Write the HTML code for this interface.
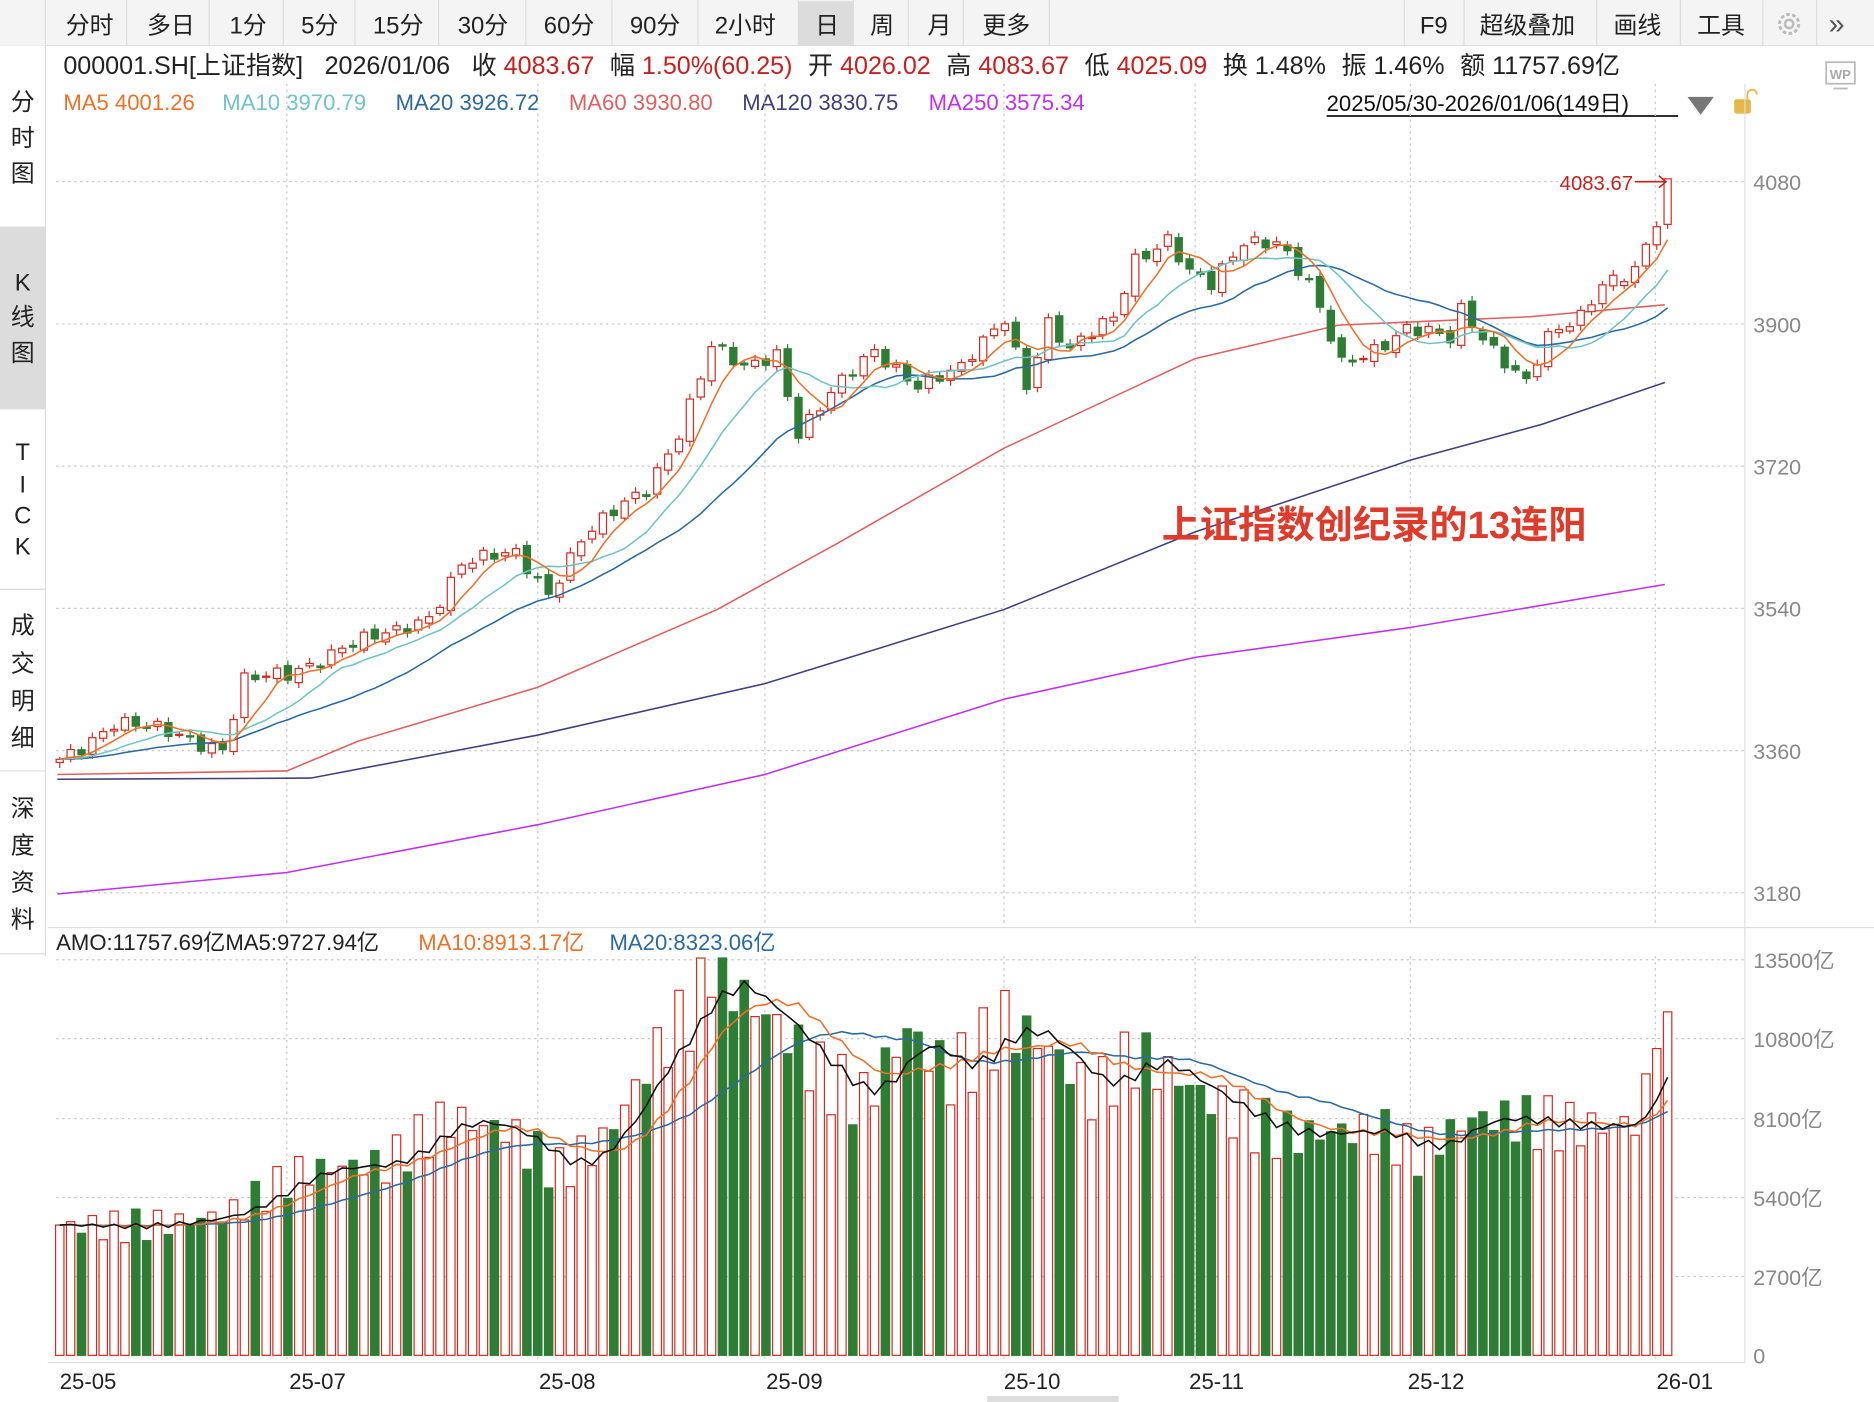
<!DOCTYPE html>
<html><head><meta charset="utf-8"><style>
html,body{margin:0;padding:0;background:#fff;width:1874px;height:1402px;overflow:hidden}
svg{display:block}
text{font-family:"Liberation Sans","Noto Sans CJK SC",sans-serif}
</style></head><body>
<svg id="s" width="1874" height="1402" viewBox="0 0 1568 1173" xmlns="http://www.w3.org/2000/svg">
<rect x="0" y="0" width="1568" height="38" fill="#f4f4f4"/>
<line x1="0" y1="38" x2="1568" y2="38" stroke="#ddd"/>
<rect x="668" y="1" width="46" height="37" fill="#dcdcdc"/>
<g font-size="20" fill="#222">
<text x="55" y="28">分时</text><text x="123" y="28">多日</text><text x="192" y="28">1分</text><text x="252" y="28">5分</text><text x="312" y="28">15分</text><text x="383" y="28">30分</text><text x="455" y="28">60分</text><text x="527" y="28">90分</text><text x="598" y="28">2小时</text><text x="682" y="28">日</text><text x="728" y="28">周</text><text x="776" y="28">月</text><text x="822" y="28">更多</text>
<text x="1188" y="28">F9</text><text x="1238" y="28">超级叠加</text><text x="1350" y="28">画线</text><text x="1420" y="28">工具</text>
<text x="1530" y="28" fill="#555" font-size="24">»</text>
</g>
<circle cx="1497" cy="20" r="8" fill="none" stroke="#bbb" stroke-width="2.5" stroke-dasharray="3 2"/><circle cx="1497" cy="20" r="3.5" fill="none" stroke="#bbb" stroke-width="2"/>
<g stroke="#ddd"><line x1="38" y1="0" x2="38" y2="38"/><line x1="106" y1="0" x2="106" y2="38"/><line x1="175" y1="0" x2="175" y2="38"/><line x1="237" y1="0" x2="237" y2="38"/><line x1="297" y1="0" x2="297" y2="38"/><line x1="367" y1="0" x2="367" y2="38"/><line x1="440" y1="0" x2="440" y2="38"/><line x1="512" y1="0" x2="512" y2="38"/><line x1="584" y1="0" x2="584" y2="38"/><line x1="668" y1="0" x2="668" y2="38"/><line x1="714" y1="0" x2="714" y2="38"/><line x1="760" y1="0" x2="760" y2="38"/><line x1="806" y1="0" x2="806" y2="38"/><line x1="878" y1="0" x2="878" y2="38"/><line x1="1175" y1="0" x2="1175" y2="38"/><line x1="1225" y1="0" x2="1225" y2="38"/><line x1="1336" y1="0" x2="1336" y2="38"/><line x1="1406" y1="0" x2="1406" y2="38"/><line x1="1475" y1="0" x2="1475" y2="38"/><line x1="1520" y1="0" x2="1520" y2="38"/></g>
<rect x="0" y="38" width="38" height="760" fill="#fff"/>
<rect x="0" y="190" width="38" height="152" fill="#dcdcdc"/>
<line x1="38" y1="38" x2="38" y2="800" stroke="#ddd"/>
<g stroke="#ddd"><line x1="0" y1="190" x2="38" y2="190"/><line x1="0" y1="342" x2="38" y2="342"/><line x1="0" y1="493" x2="38" y2="493"/><line x1="0" y1="645" x2="38" y2="645"/><line x1="0" y1="798" x2="38" y2="798"/></g>
<g font-size="20" fill="#222" text-anchor="middle">
<text x="19" y="92">分</text><text x="19" y="122">时</text><text x="19" y="152">图</text>
<text x="19" y="243">K</text><text x="19" y="272">线</text><text x="19" y="302">图</text>
<text x="19" y="385">T</text><text x="19" y="412">I</text><text x="19" y="438">C</text><text x="19" y="464">K</text>
<text x="19" y="530">成</text><text x="19" y="562">交</text><text x="19" y="593">明</text><text x="19" y="624">细</text>
<text x="19" y="683">深</text><text x="19" y="714">度</text><text x="19" y="745">资</text><text x="19" y="776">料</text>
</g>
<g font-size="21" fill="#222">
<text x="53" y="62">000001.SH[上证指数]<tspan dx="18">2026/01/06</tspan><tspan dx="18">收 </tspan><tspan fill="#c8201e">4083.67</tspan><tspan dx="13">幅 </tspan><tspan fill="#c8201e">1.50%(60.25)</tspan><tspan dx="13">开 </tspan><tspan fill="#c8201e">4026.02</tspan><tspan dx="13">高 </tspan><tspan fill="#c8201e">4083.67</tspan><tspan dx="13">低 </tspan><tspan fill="#c8201e">4025.09</tspan><tspan dx="13">换 1.48%</tspan><tspan dx="13">振 1.46%</tspan><tspan dx="13">额 11757.69亿</tspan></text>
</g>
<g font-size="18.5">
<text x="53" y="92" fill="#f07028">MA5 4001.26</text><text x="186" y="92" fill="#70c4c4">MA10 3970.79</text><text x="331" y="92" fill="#2a6aa0">MA20 3926.72</text><text x="476" y="92" fill="#e06060">MA60 3930.80</text><text x="621" y="92" fill="#404080">MA120 3830.75</text><text x="777" y="92" fill="#c030f0">MA250 3575.34</text>
</g>
<text x="1110" y="93" font-size="18.5" fill="#111">2025/05/30-2026/01/06(149日)</text>
<line x1="1110" y1="97" x2="1404" y2="97" stroke="#111" stroke-width="1.5"/>
<polygon points="1412,81 1434,81 1423,96" fill="#777"/>
<rect x="1451" y="83" width="14" height="12" rx="2" fill="#e6b84a"/><path d="M1462 83 v-4 a4 4 0 0 1 8 0" fill="none" stroke="#e6b84a" stroke-width="1.5"/>
<rect x="1528" y="52" width="24" height="18" fill="none" stroke="#bbb" stroke-width="1.5"/><text x="1531" y="66" font-size="11" fill="#aaa" font-weight="bold">WP</text><line x1="1534" y1="74" x2="1546" y2="74" stroke="#bbb" stroke-width="1.5"/>
<line x1="1460" y1="70" x2="1460" y2="1140" stroke="#ddd"/>
<line x1="40" y1="776" x2="1568" y2="776" stroke="#ddd"/>
<line x1="40" y1="1140" x2="1460" y2="1140" stroke="#ddd"/>
<g id="grid" stroke="#c8c8c8" stroke-dasharray="2 3"></g>
<g id="plot"></g>
<g font-size="18" fill="#888">
<text x="1467" y="159">4080</text><text x="1467" y="278">3900</text><text x="1467" y="397">3720</text><text x="1467" y="516">3540</text><text x="1467" y="635">3360</text><text x="1467" y="754">3180</text>
<text x="1467" y="810">13500亿</text><text x="1467" y="876">10800亿</text><text x="1467" y="943">8100亿</text><text x="1467" y="1009">5400亿</text><text x="1467" y="1075">2700亿</text><text x="1467" y="1141">0</text>
</g>
<g font-size="18.5">
<text x="47" y="795" fill="#222">AMO:11757.69亿MA5:9727.94亿</text><text x="350" y="795" fill="#f07028">MA10:8913.17亿</text><text x="510" y="795" fill="#2a6aa0">MA20:8323.06亿</text>
</g>
<g font-size="18.5" fill="#222">
<text x="50" y="1162">25-05</text><text x="242" y="1162">25-07</text><text x="451" y="1162">25-08</text><text x="641" y="1162">25-09</text><text x="840" y="1162">25-10</text><text x="995" y="1162">25-11</text><text x="1178" y="1162">25-12</text><text x="1386" y="1162">26-01</text>
</g>
<rect x="826" y="1168" width="110" height="5" fill="#ddd"/>
<text x="972" y="450" font-size="32" font-weight="bold" fill="#e03a2a">上证指数创纪录的13连阳</text>
<text x="1305" y="159" font-size="17" fill="#c8201e">4083.67</text>
<path d="M1368 152 H1394 M1388 147 L1394 152 L1388 157" stroke="#c8201e" fill="none" stroke-width="1.3"/>
</svg>
<script>
const NS="http://www.w3.org/2000/svg";
const grid=document.getElementById('grid'),plot=document.getElementById('plot');
function el(p,t,a){const e=document.createElementNS(NS,t);for(const k in a)e.setAttribute(k,a[k]);p.appendChild(e);return e;}
[152,271,390,509,628,747,803,869,936,1002,1068].forEach(y=>el(grid,'line',{x1:47,y1:y,x2:1460,y2:y}));
[240,450,640,840,1000,1180,1385].forEach(x=>{el(grid,'line',{x1:x,y1:70,x2:x,y2:775});el(grid,'line',{x1:x,y1:800,x2:x,y2:1138});});
const key=[[0,3349],[5,3395],[11,3380],[15,3364],[17,3448],[21,3455],[26,3493],[31,3508],[34,3531],[37,3599],[42,3607],[45,3561],[48,3629],[54,3690],[57,3765],[60,3871],[63,3841],[66,3864],[68,3765],[71,3811],[75,3864],[79,3826],[83,3841],[87,3909],[89,3826],[91,3902],[93,3864],[97,3909],[99,3985],[102,4007],[104,3962],[106,3947],[109,4007],[112,4007],[115,3947],[118,3849],[121,3871],[124,3894],[128,3879],[129,3917],[132,3871],[135,3826],[137,3879],[140,3909],[142,3955],[145,3970],[147,4023],[148,4083.67]];
function interp(k,i){for(let j=0;j<k.length-1;j++){const[a,va]=k[j],[b,vb]=k[j+1];if(i>=a&&i<=b)return va+(vb-va)*(i-a)/(b-a);}return k[k.length-1][1];}
const N=149,X=i=>50+i*9.09,Y=p=>152+(4080-p)*0.6611;
const c=[],o=[],h=[],l=[];
for(let i=0;i<N;i++){let v=interp(key,i);if(i<147)v+=8*Math.sin(i*2.3)+5*Math.sin(i*5.7);c.push(v);}
for(let i=0;i<N;i++){let v=i?c[i-1]+4*Math.sin(i*3.1):3345;if(i>=136&&v>c[i]-3)v=c[i]-3-4*Math.abs(Math.sin(i));if(i==148)v=4026.02;o.push(v);
h.push(Math.max(v,c[i])+3+4*Math.abs(Math.sin(i*1.7)));l.push(Math.min(v,c[i])-3-4*Math.abs(Math.cos(i*1.3)));}
h[148]=4083.67;
function ma(a,n){return a.map((_,i)=>{let s=0;for(let j=i-n+1;j<=i;j++)s+=a[Math.max(j,0)];return s/n;});}
function line(pts,col,w){el(plot,'polyline',{points:pts.map(p=>p.join(',')).join(' '),fill:'none',stroke:col,'stroke-width':w||1.3});}
line([[48,748],[240,730],[450,690],[640,648],[840,585],[1000,550],[1180,525],[1393,489]],'#c030f0');
line([[48,652],[260,651],[450,615],[640,572],[840,510],[1000,445],[1180,385],[1290,355],[1393,320]],'#404080');
line([[48,648],[240,645],[300,620],[450,575],[600,510],[700,455],[840,375],[1000,300],[1120,272],[1280,265],[1393,255]],'#e06060');
const RED='#d42a20',GRN='#2f7d35';
for(let i=0;i<N;i++){const x=X(i),up=c[i]>=o[i],col=up?RED:GRN;
el(plot,'line',{x1:x,y1:Y(h[i]),x2:x,y2:Y(Math.max(o[i],c[i])),stroke:col,'stroke-width':1});
el(plot,'line',{x1:x,y1:Y(Math.min(o[i],c[i])),x2:x,y2:Y(l[i]),stroke:col,'stroke-width':1});
const t=Y(Math.max(o[i],c[i])),b=Y(Math.min(o[i],c[i]));
el(plot,'rect',{x:x-3,y:t,width:6,height:Math.max(b-t,1),fill:up?'#fff':GRN,stroke:col,'stroke-width':1});}
[[20,'#2a6aa0'],[10,'#70c4c4'],[5,'#f07028']].forEach(([n,col])=>line(ma(c,n).map((v,i)=>[X(i),Y(v)]),col));
const vk=[[0,4460],[8,4800],[16,5000],[22,5900],[30,6200],[36,8300],[41,8300],[46,6700],[50,7500],[55,10000],[58,11000],[60,12800],[63,11500],[66,11000],[70,9800],[74,9300],[78,12000],[82,10000],[87,11200],[91,10000],[95,8300],[99,9800],[103,9500],[108,8800],[113,8100],[118,7900],[122,7400],[125,6500],[130,7600],[135,7800],[140,8100],[145,8600],[147,10500],[148,11757]];
const v=[];for(let i=0;i<N;i++){let a=interp(vk,i);if(i<147)a*=1+0.12*Math.sin(i*2.9)+0.07*Math.sin(i*6.1);v.push(Math.min(a,13600));}
const VY=a=>1134-a/2700*66;
for(let i=0;i<N;i++){const up=c[i]>=o[i],x=X(i),t=VY(v[i]);
el(plot,'rect',{x:x-3.5,y:t,width:7,height:1134-t,fill:up?'#fff':GRN,stroke:up?RED:GRN,'stroke-width':1});}
[[20,'#2a6aa0'],[10,'#f07028'],[5,'#111']].forEach(([n,col])=>line(ma(v,n).map((a,i)=>[X(i),VY(a)]),col));
</script>
</body></html>
